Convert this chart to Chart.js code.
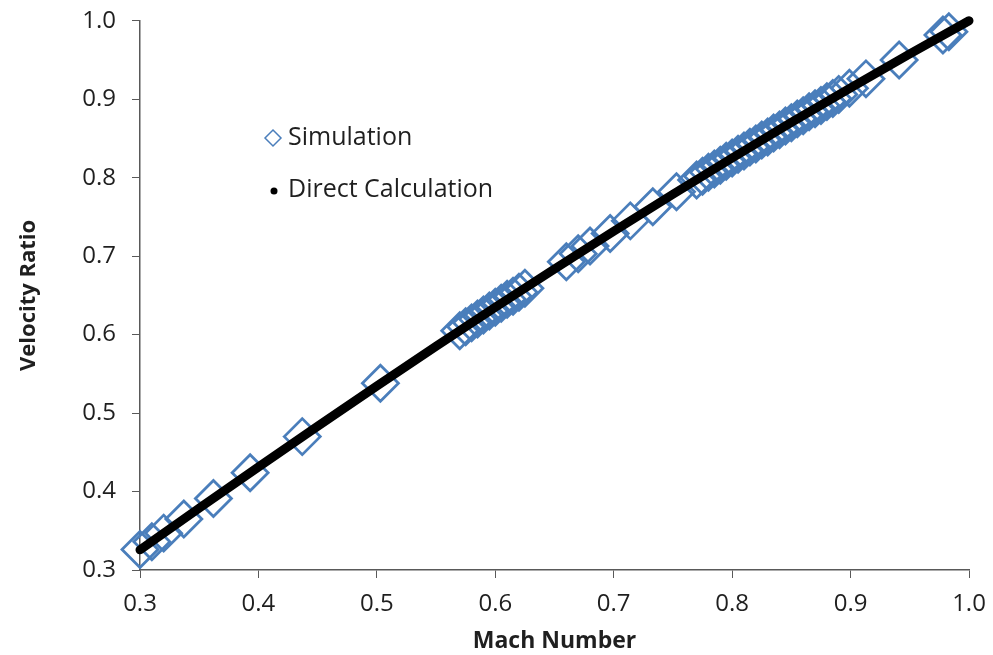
<!DOCTYPE html>
<html>
<head>
<meta charset="utf-8">
<script src="https://cdn.jsdelivr.net/npm/chart.js@4"></script>
<style>
  html, body { margin: 0; padding: 0; background: #fff; }
  #wrap { width: 993px; height: 655px; }
</style>
</head>
<body>
<div id="wrap"><canvas id="chart" width="993" height="655"></canvas></div>
<script>
(() => {
    'use strict';

    // Simulation points (Mach number, velocity ratio)
    const simMach = [0.300, 0.310, 0.320, 0.337, 0.362, 0.393, 0.437, 0.503,
        0.570, 0.575, 0.580, 0.585, 0.590, 0.595, 0.600, 0.605, 0.610, 0.615, 0.620, 0.625,
        0.660, 0.670, 0.680, 0.697, 0.714, 0.733, 0.753,
        0.770, 0.775, 0.780, 0.785, 0.790, 0.795, 0.800, 0.805, 0.810, 0.815, 0.820, 0.825,
        0.830, 0.835, 0.840, 0.845, 0.850, 0.855, 0.860, 0.865, 0.870, 0.875, 0.880, 0.885,
        0.890, 0.899, 0.913, 0.941, 0.978, 0.983];
    const simRatio = [0.326, 0.336, 0.347, 0.365, 0.391, 0.424, 0.470, 0.538,
        0.605, 0.610, 0.615, 0.620, 0.625, 0.630, 0.635, 0.640, 0.645, 0.649, 0.654, 0.659,
        0.693, 0.703, 0.713, 0.729, 0.745, 0.763, 0.782,
        0.797, 0.802, 0.807, 0.811, 0.816, 0.821, 0.825, 0.830, 0.834, 0.839, 0.843, 0.848,
        0.852, 0.857, 0.861, 0.866, 0.870, 0.875, 0.879, 0.884, 0.888, 0.892, 0.897, 0.901,
        0.906, 0.914, 0.926, 0.950, 0.982, 0.986];

    // Direct calculation curve
    const calcMach = [0.30, 0.35, 0.40, 0.45, 0.50, 0.55, 0.60, 0.65, 0.70, 0.75, 0.80, 0.85, 0.90, 0.95, 1.00];
    const calcRatio = [0.3257, 0.3788, 0.4313, 0.4833, 0.5345, 0.5851, 0.6348, 0.6837, 0.7318, 0.7789, 0.8251, 0.8704, 0.9146, 0.9578, 1.0000];

    const legendLabels = ['Simulation', 'Direct Calculation'];
    const xTitle = 'Mach Number';
    const yTitle = 'Velocity Ratio';

    const BLUE = '#4a7ebb';
    const AXIS = '#595959';
    const TEXT = '#1f1f1f';
    const FONT = '"Open Sans", sans-serif';

    const toPoints = (xs, ys) => xs.map((x, i) => ({ x: x, y: ys[i] }));

    // legend drawn inside the plot area
    const insideLegend = {
        id: 'insideLegend',
        afterDraw(chart) {
            const ctx = chart.ctx;
            ctx.save();
            ctx.font = '25px ' + FONT;
            ctx.fillStyle = TEXT;
            ctx.textBaseline = 'middle';
            ctx.fillText(legendLabels[0], 288, 138);
            ctx.fillText(legendLabels[1], 288, 190);

            // diamond marker
            ctx.strokeStyle = BLUE;
            ctx.lineWidth = 1.5;
            ctx.beginPath();
            ctx.moveTo(273, 130);
            ctx.lineTo(281, 138);
            ctx.lineTo(273, 146);
            ctx.lineTo(265, 138);
            ctx.closePath();
            ctx.stroke();

            // dot marker
            ctx.fillStyle = '#000';
            ctx.beginPath();
            ctx.arc(274, 191, 3.5, 0, Math.PI * 2);
            ctx.fill();
            ctx.restore();
        }
    };

    new Chart(document.getElementById('chart'), {
        type: 'scatter',
        data: {
            datasets: [{
                label: legendLabels[1],
                data: toPoints(calcMach, calcRatio),
                showLine: true,
                borderColor: '#000',
                backgroundColor: '#000',
                borderWidth: 9,
                borderCapStyle: 'round',
                pointRadius: 0,
                clip: false,
                order: 0
            }, {
                label: legendLabels[0],
                data: toPoints(simMach, simRatio),
                pointStyle: 'rectRot',
                pointRadius: 18,
                pointBorderWidth: 2.8,
                pointBorderColor: BLUE,
                pointBackgroundColor: 'rgba(0,0,0,0)',
                borderColor: BLUE,
                clip: false,
                order: 1
            }]
        },
        options: {
            responsive: false,
            animation: false,
            layout: { padding: { top: 20, right: 24, left: 16, bottom: 0 } },
            plugins: {
                legend: { display: false },
                tooltip: { enabled: false }
            },
            scales: {
                x: {
                    type: 'linear',
                    min: 0.3,
                    max: 1.0,
                    afterFit: scale => {
                        scale.height = 85;
                        scale.paddingLeft = 0;
                        scale.paddingRight = 0;
                    },
                    ticks: {
                        stepSize: 0.1,
                        color: TEXT,
                        padding: 12,
                        font: { family: FONT, size: 24 },
                        callback: v => v.toFixed(1)
                    },
                    grid: { drawOnChartArea: false, drawTicks: true, tickLength: 8, color: AXIS },
                    border: { color: AXIS, width: 1.5 },
                    title: {
                        display: true,
                        text: xTitle,
                        color: TEXT,
                        padding: { top: 0, bottom: 0 },
                        font: { family: FONT, size: 23, weight: 'bold' }
                    }
                },
                y: {
                    type: 'linear',
                    min: 0.3,
                    max: 1.0,
                    afterFit: scale => {
                        scale.width = 124;
                        scale.paddingTop = 0;
                        scale.paddingBottom = 0;
                    },
                    ticks: {
                        stepSize: 0.1,
                        color: TEXT,
                        padding: 16,
                        font: { family: FONT, size: 24 },
                        callback: v => v.toFixed(1)
                    },
                    grid: { drawOnChartArea: false, drawTicks: true, tickLength: 8, color: AXIS },
                    border: { color: AXIS, width: 1.5 },
                    title: {
                        display: true,
                        text: yTitle,
                        color: TEXT,
                        padding: { top: 0, bottom: 0 },
                        font: { family: FONT, size: 22, weight: 'bold' }
                    }
                }
            }
        },
        plugins: [insideLegend]
    });
})();
</script>
</body>
</html>
